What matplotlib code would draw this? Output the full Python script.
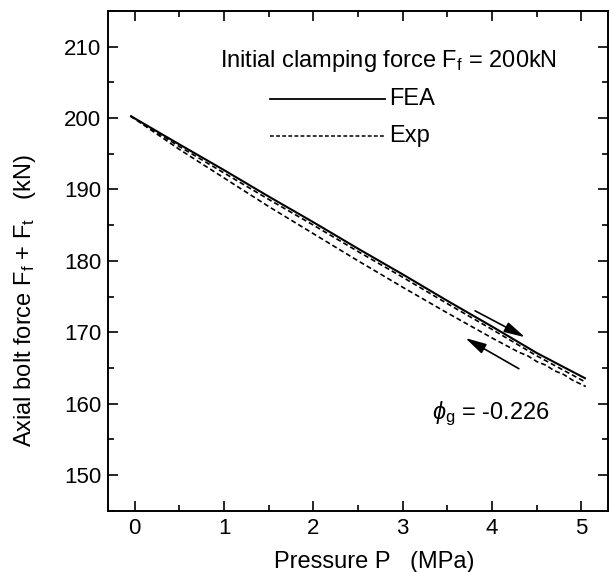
import matplotlib

matplotlib.use("Agg")
import matplotlib.pyplot as plt
from matplotlib.ticker import MultipleLocator

plt.rcParams["font.family"] = ["Liberation Sans", "DejaVu Sans"]
plt.rcParams["mathtext.fontset"] = "custom"
plt.rcParams["mathtext.rm"] = "Liberation Sans"
plt.rcParams["mathtext.it"] = "Liberation Sans:italic"
plt.rcParams["mathtext.fallback"] = "cm"

# pressure (MPa) and axial bolt force (kN)
pressure = [-0.05, 0.5, 1.0, 1.5, 2.0, 2.5, 3.0, 3.5, 4.0, 4.5, 5.05]
fea = [200.3, 196.3, 192.7, 189.0, 185.4, 181.7, 178.1, 174.4, 170.8, 167.1, 163.5]
exp_loading = [200.3, 196.0, 192.3, 188.6, 185.0, 181.3, 177.7, 174.0, 170.4, 166.7, 163.0]

pressure_unload = [-0.05, 0.5, 1.0, 1.5, 2.0, 2.5, 3.0, 3.5, 4.0, 4.3, 4.4, 4.5, 4.6,
                   4.7, 4.8, 4.9, 5.05]
exp_unloading = [200.3, 195.6, 191.6, 187.6, 183.8, 180.0, 176.3, 172.7, 169.2, 167.2,
                 166.7, 165.9, 165.4, 164.6, 164.1, 163.3, 162.4]

FS = 17

fig = plt.figure(figsize=(6.1, 5.72), dpi=100)
ax = fig.add_axes([0.177, 0.107, 0.82, 0.874])

ax.plot(pressure, fea, color="black", lw=1.5, solid_capstyle="butt")
ax.plot(pressure, exp_loading, color="black", lw=1.2, dashes=(3, 1.8))
ax.plot(pressure_unload, exp_unloading, color="black", lw=1.2, dashes=(3, 1.8))

# loading / unloading direction arrows
arrow = dict(arrowstyle="-|>,head_length=0.8,head_width=0.2", color="black", lw=1.2,
             mutation_scale=16, shrinkA=0, shrinkB=0)
ax.annotate("", xy=(4.37, 169.3), xytext=(3.81, 173.0), arrowprops=arrow)
ax.annotate("", xy=(3.70, 169.2), xytext=(4.30, 164.9), arrowprops=arrow)

# legend drawn by hand, like the original
ax.text(2.84, 208.0, r"Initial clamping force F$_\mathrm{f}$ = 200kN",
        ha="center", va="center", fontsize=FS)
ax.plot([1.51, 2.80], [202.7, 202.7], color="black", lw=1.3)
ax.text(2.85, 202.7, "FEA", ha="left", va="center", fontsize=FS)
ax.plot([1.51, 2.80], [197.5, 197.5], color="black", lw=1.1, dashes=(2.5, 1.5))
ax.text(2.85, 197.5, "Exp", ha="left", va="center", fontsize=FS)

ax.text(3.33, 158.6, r"$\phi_\mathrm{g}$ = -0.226", ha="left", va="center", fontsize=FS)

ax.set_xlim(-0.3, 5.3)
ax.set_ylim(145, 215)
ax.xaxis.set_major_locator(MultipleLocator(1))
ax.xaxis.set_minor_locator(MultipleLocator(0.5))
ax.yaxis.set_major_locator(MultipleLocator(10))
ax.yaxis.set_minor_locator(MultipleLocator(5))
ax.tick_params(which="both", direction="in", top=True, right=True, width=1.2,
               labelsize=16, pad=5)
ax.tick_params(which="major", length=7)
ax.tick_params(which="minor", length=4.5)
for s in ax.spines.values():
    s.set_linewidth(1.4)

ax.set_xlabel("Pressure P   (MPa)", fontsize=FS, va="center")
ax.xaxis.set_label_coords(0.533, -0.102)
ax.set_ylabel(r"Axial bolt force F$_\mathrm{f}$ + F$_\mathrm{t}$   (kN)", fontsize=FS,
              va="center")
ax.yaxis.set_label_coords(-0.166, 0.42)

fig.savefig("out.png", dpi=100)
